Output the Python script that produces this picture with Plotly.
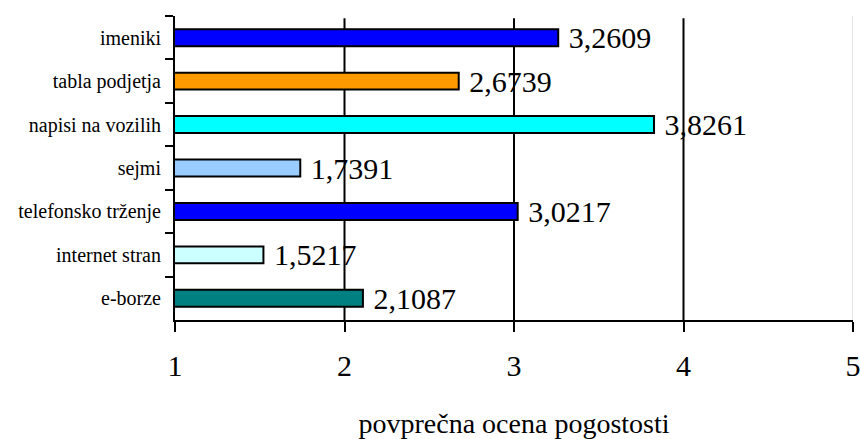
import plotly.graph_objects as go

# Average frequency score per promotion channel (top to bottom)
categories = ["imeniki", "tabla podjetja", "napisi na vozilih", "sejmi",
              "telefonsko trženje", "internet stran", "e-borze"]
scores = [3.2609, 2.6739, 3.8261, 1.7391, 3.0217, 1.5217, 2.1087]
bar_colors = ["#0000FF", "#FF9900", "#00FFFF", "#99CCFF",
              "#0000FF", "#CCFFFF", "#008080"]
x_ticks = [1, 2, 3, 4, 5]
grid_at = [2, 3, 4]

FONT = "Liberation Serif"

fig = go.Figure(go.Bar(
    y=categories,
    x=scores,
    orientation="h",
    marker=dict(color=bar_colors, line=dict(color="black", width=2)),
    texttemplate=" %{x:.4f}",
    textposition="outside",
    constraintext="none",
    textfont=dict(family=FONT, size=30, color="black"),
    cliponaxis=False,
    width=0.39,
))

# vertical reference lines inside the plot area
for g in grid_at:
    fig.add_shape(type="line", xref="x", yref="paper", x0=g, x1=g, y0=0, y1=0.993,
                  line=dict(color="black", width=2), layer="below")
fig.add_shape(type="line", xref="x", yref="paper", x0=5, x1=5, y0=0, y1=1,
              line=dict(color="#cfcfcf", width=1), layer="below")

fig.update_layout(
    width=860, height=439,
    margin=dict(l=175, r=7, t=16, b=119, autoexpand=False),
    paper_bgcolor="white", plot_bgcolor="white",
    separators=", ",
    showlegend=False,
    font=dict(family=FONT, color="black"),
)
fig.update_xaxes(
    range=[1, 5], tickvals=x_ticks, showgrid=False, zeroline=False,
    showline=True, linecolor="black", linewidth=2,
    ticks="outside", ticklen=10, tickwidth=2, tickcolor="black",
    tickfont=dict(family=FONT, size=30), ticklabelstandoff=8,
    ticklabeloverflow="allow", automargin=False,
    title=dict(text="povprečna ocena pogostosti", font=dict(family=FONT, size=28), standoff=32),
)
fig.update_yaxes(
    autorange=False, range=[6.5, -0.5], type="category",
    showgrid=False, zeroline=False, automargin=False,
    showline=True, linecolor="black", linewidth=2,
    ticks="outside", tickson="boundaries", ticklen=8, tickwidth=2, tickcolor="black",
    tickfont=dict(family=FONT, size=20), ticklabelstandoff=8,
)

fig.write_html("out.html")
